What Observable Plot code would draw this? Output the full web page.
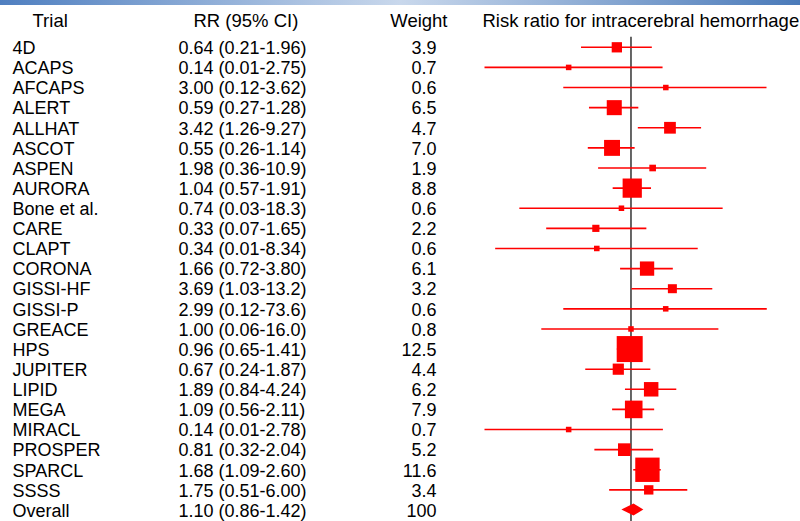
<!DOCTYPE html>
<html><head><meta charset="utf-8">
<script src="https://cdn.jsdelivr.net/npm/d3@7"></script>
<script src="https://cdn.jsdelivr.net/npm/@observablehq/plot@0.6"></script>
<style>
html,body{margin:0;padding:0;background:#fff;}
#wrap{position:relative;width:800px;height:521px;overflow:hidden;}
#wrap svg{display:block;overflow:visible;}
#band{position:absolute;left:0;top:0;width:800px;height:5px;background:linear-gradient(to right,#4f7fc0,#c9d8ec 50%,#4a7ab9);}
</style></head><body><div id="wrap"><div id="band"></div></div>
<script>
const headers = ["Trial", "RR (95% CI)", "Weight", "Risk ratio for intracerebral hemorrhage"];
const trials = ["4D","ACAPS","AFCAPS","ALERT","ALLHAT","ASCOT","ASPEN","AURORA","Bone et al.","CARE","CLAPT","CORONA","GISSI-HF","GISSI-P","GREACE","HPS","JUPITER","LIPID","MEGA","MIRACL","PROSPER","SPARCL","SSSS","Overall"];
const rrText = ["0.64 (0.21-1.96)","0.14 (0.01-2.75)","3.00 (0.12-3.62)","0.59 (0.27-1.28)","3.42 (1.26-9.27)","0.55 (0.26-1.14)","1.98 (0.36-10.9)","1.04 (0.57-1.91)","0.74 (0.03-18.3)","0.33 (0.07-1.65)","0.34 (0.01-8.34)","1.66 (0.72-3.80)","3.69 (1.03-13.2)","2.99 (0.12-73.6)","1.00 (0.06-16.0)","0.96 (0.65-1.41)","0.67 (0.24-1.87)","1.89 (0.84-4.24)","1.09 (0.56-2.11)","0.14 (0.01-2.78)","0.81 (0.32-2.04)","1.68 (1.09-2.60)","1.75 (0.51-6.00)","1.10 (0.86-1.42)"];
const weightText = ["3.9","0.7","0.6","6.5","4.7","7.0","1.9","8.8","0.6","2.2","0.6","6.1","3.2","0.6","0.8","12.5","4.4","6.2","7.9","0.7","5.2","11.6","3.4","100"];
const weights = [3.9,0.7,0.6,6.5,4.7,7.0,1.9,8.8,0.6,2.2,0.6,6.1,3.2,0.6,0.8,12.5,4.4,6.2,7.9,0.7,5.2,11.6,3.4,100];
// plotted values (as drawn in the picture)
const rr = [0.64,0.14,3.00,0.59,3.42,0.55,1.98,1.04,0.74,0.33,0.34,1.66,3.69,2.99,1.00,0.96,0.67,1.89,1.09,0.14,0.81,1.68,1.75,1.10];
const lo = [0.21,0.01,0.12,0.27,1.26,0.26,0.36,0.57,0.03,0.07,0.014,0.72,1.03,0.12,0.06,0.65,0.24,0.84,0.56,0.01,0.32,1.09,0.51,0.75];
const hi = [1.96,2.75,73.0,1.28,9.27,1.14,10.9,1.91,18.3,1.65,8.34,3.80,13.2,73.6,16.0,1.41,1.87,4.24,2.11,2.78,2.04,2.60,6.00,1.50];

const rows = trials.map((t, i) => ({i, trial: t, rrText: rrText[i], wText: weightText[i], w: weights[i], rr: rr[i], lo: lo[i], hi: hi[i]}));
const studies = rows.slice(0, -1);
const overall = rows[rows.length - 1];
const dh = 0.3;
const diamond = [
  {y: overall.i - dh, x1: overall.rr, x2: overall.rr},
  {y: overall.i, x1: overall.lo, x2: overall.hi},
  {y: overall.i + dh, x1: overall.rr, x2: overall.rr}
];

const font = "'Liberation Sans', Arial, Helvetica, sans-serif";
const rowFs = 18, headFs = 18.5;

const chart = Plot.plot({
  width: 800,
  height: 521,
  margin: 0,
  style: {fontFamily: font, background: "transparent", color: "#000", overflow: "visible"},
  x: {type: "log", domain: [0.01, 210], range: [484.5, 800], axis: null},
  y: {domain: [0, 23], range: [46.8, 509.5], axis: null},
  r: {type: "linear", domain: [1.3, 12.5], range: [3.12, 14.67], clamp: true},
  marks: [
    Plot.ruleX([1], {y1: -0.5, y2: 23.7, stroke: "#000", strokeWidth: 1.2}),
    Plot.ruleY(studies, {y: "i", x1: "lo", x2: "hi", stroke: "#ff0000", strokeWidth: 1.6}),
    Plot.dot(studies, {x: "rr", y: "i", r: "w", symbol: "square", fill: "#ff0000", stroke: "none"}),
    Plot.areaX(diamond, {y: "y", x1: "x1", x2: "x2", fill: "#ff0000", curve: "linear"}),
    Plot.text(rows, {y: "i", text: "trial", frameAnchor: "left", dx: 12, dy: 1, textAnchor: "start", fontSize: rowFs, fill: "#000"}),
    Plot.text(rows, {y: "i", text: "rrText", frameAnchor: "left", dx: 178, dy: 1, textAnchor: "start", fontSize: rowFs, fill: "#000"}),
    Plot.text(rows, {y: "i", text: "wText", frameAnchor: "left", dx: 436, dy: 1, textAnchor: "end", fontSize: rowFs, fill: "#000"}),
    Plot.text([headers[0]], {text: d => d, frameAnchor: "top-left", dx: 32, dy: 21, lineAnchor: "middle", textAnchor: "start", fontSize: headFs, fill: "#000"}),
    Plot.text([headers[1]], {text: d => d, frameAnchor: "top-left", dx: 193, dy: 21, lineAnchor: "middle", textAnchor: "start", fontSize: headFs, fill: "#000"}),
    Plot.text([headers[2]], {text: d => d, frameAnchor: "top-left", dx: 447, dy: 21, lineAnchor: "middle", textAnchor: "end", fontSize: headFs, fill: "#000"}),
    Plot.text([headers[3]], {text: d => d, frameAnchor: "top-left", dx: 482, dy: 21, lineAnchor: "middle", textAnchor: "start", fontSize: headFs, fill: "#000"})
  ]
});
document.getElementById("wrap").insertBefore(chart, document.getElementById("band"));
</script>
</body></html>
